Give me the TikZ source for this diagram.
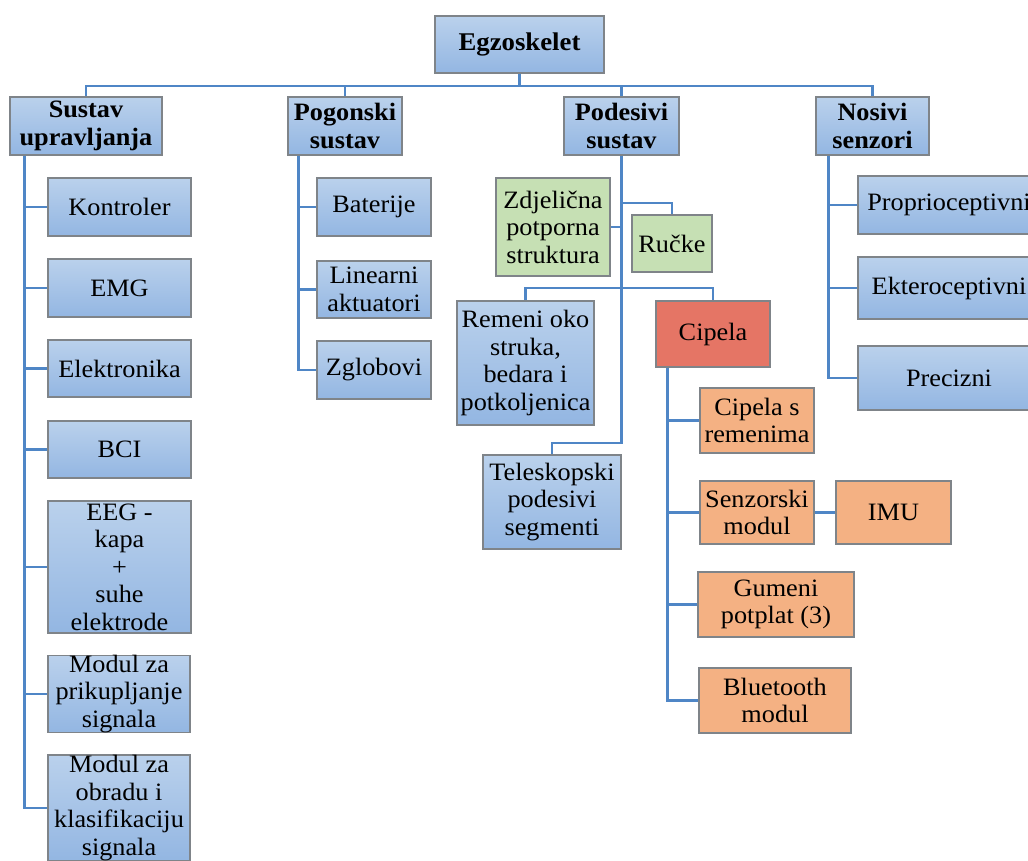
\documentclass[tikz,border=0pt]{standalone}
\usepackage{fontspec}
\setmainfont{Liberation Serif}[FakeStretch=1.05]
\usepackage{tikz}
\usetikzlibrary{calc}
\definecolor{bluetop}{HTML}{BAD1EC}
\definecolor{bluebot}{HTML}{93B6E2}
\definecolor{boxgray}{HTML}{7F8489}
\definecolor{linkblue}{HTML}{4F86C6}
\definecolor{greenfill}{HTML}{C6E0B4}
\definecolor{redfill}{HTML}{E57565}
\definecolor{orangefill}{HTML}{F4B183}
\newcommand{\boxfont}{\rmfamily\fontsize{25}{27.5}\selectfont}

\begin{document}
\begin{tikzpicture}[x=1pt, y=-1pt,
    box/.style={draw=boxgray, line width=1.2pt, inner sep=0pt, align=center, font=\boxfont},
    bluebox/.style={box, top color=bluetop, bottom color=bluebot},
    greenbox/.style={box, fill=greenfill},
    redbox/.style={box, fill=redfill},
    orangebox/.style={box, fill=orangefill},
    head/.style={bluebox, font=\boxfont\bfseries, minimum height=58pt},
    link/.style={draw=linkblue, line width=2.6pt}]
        \clip (0,0) rectangle (1028,860);
        % top level
        \node[head, font=\rmfamily\fontsize{25.5}{28}\selectfont\bfseries, minimum width=169pt, minimum height=57pt] (root) at (519.5,44.5) {Egzoskelet};
        \node[head, minimum width=152pt] (upr) at (86,126) {Sustav\\upravljanja};
        \node[head, minimum width=114pt] (pog) at (345,126) {Pogonski\\sustav};
        \node[head, minimum width=115pt] (pod) at (621.5,126) {Podesivi\\sustav};
        \node[head, minimum width=113pt] (nos) at (872.5,126) {Nosivi\\senzori};
        % sustav upravljanja
        \node[bluebox, minimum width=143pt, minimum height=58pt] (kontroler) at (119.5,207) {Kontroler};
        \node[bluebox, minimum width=143pt, minimum height=58pt] (emg) at (119.5,288) {EMG};
        \node[bluebox, minimum width=143pt, minimum height=57pt] (elektronika) at (119.5,368.5) {Elektronika};
        \node[bluebox, minimum width=143pt, minimum height=57pt] (bci) at (119.5,449.5) {BCI};
        \node[bluebox, minimum width=143pt, minimum height=132pt] (eeg) at (119.5,567) {EEG -\\kapa\\+\\suhe\\elektrode};
        \node[bluebox, minimum width=142pt, minimum height=76pt] (prikup) at (119,694) {Modul za\\prikupljanje\\signala};
        \node[bluebox, minimum width=142pt, minimum height=106pt] (obrada) at (119,808) {Modul za\\obradu i\\klasifikaciju\\signala};
        % pogonski sustav
        \node[bluebox, minimum width=114pt, minimum height=58pt] (baterije) at (374,207) {Baterije};
        \node[bluebox, minimum width=114pt, minimum height=57pt] (linearni) at (374,289.5) {Linearni\\aktuatori};
        \node[bluebox, minimum width=114pt, minimum height=58pt] (zglobovi) at (374,370) {Zglobovi};
        % podesivi sustav
        \node[greenbox, minimum width=114pt, minimum height=98pt] (zdjelicna) at (553,227) {Zdjelična\\potporna\\struktura};
        \node[greenbox, minimum width=80pt, minimum height=57pt] (rucke) at (672,243.5) {Ručke};
        \node[bluebox, minimum width=137pt, minimum height=124pt] (remeni) at (525.5,363) {Remeni oko\\struka,\\bedara i\\potkoljenica};
        \node[redbox, minimum width=114pt, minimum height=66pt] (cipela) at (713,334) {Cipela};
        \node[bluebox, minimum width=138pt, minimum height=94pt] (teleskop) at (552,502) {Teleskopski\\podesivi\\segmenti};
        % cipela
        \node[orangebox, minimum width=114pt, minimum height=65pt] (remenima) at (757,420.5) {Cipela s\\remenima};
        \node[orangebox, minimum width=114pt, minimum height=63pt] (senzorski) at (757,512.5) {Senzorski\\modul};
        \node[orangebox, minimum width=115pt, minimum height=63pt] (imu) at (893.5,512.5) {IMU};
        \node[orangebox, minimum width=156pt, minimum height=65pt] (potplat) at (776,604.5) {Gumeni\\potplat (3)};
        \node[orangebox, minimum width=152pt, minimum height=65pt] (bluetooth) at (775,700.5) {Bluetooth\\modul};
        % nosivi senzori
        \node[bluebox, minimum width=182pt, minimum height=58pt] (proprio) at (949,205) {Proprioceptivni};
        \node[bluebox, minimum width=182pt, minimum height=62pt] (ektero) at (949,288) {Ekteroceptivni};
        \node[bluebox, minimum width=182pt, minimum height=64pt] (precizni) at (949,378) {Precizni};
        % connectors
        \foreach \n in {upr, pog, pod, nos}
          \draw[link] (root.south) -- ++(0,12.5) -| (\n.north);
        \foreach \n in {kontroler, emg, elektronika, bci, eeg, prikup, obrada}
          \draw[link] (upr.south west) ++(15,0) |- (\n.west);
        \foreach \n in {baterije, linearni, zglobovi}
          \draw[link] (pog.south west) ++(11,0) |- (\n.west);
        \foreach \n in {proprio, ektero, precizni}
          \draw[link] (nos.south west) ++(13,0) |- (\n.west);
        \foreach \n in {remenima, senzorski, potplat, bluetooth}
          \draw[link] (cipela.south west) ++(12,0) |- (\n.west);
        \draw[link] (pod.south) |- (zdjelicna.east);
        \draw[link] (pod.south |- 0,203) -| (rucke.north);
        \draw[link] (pod.south |- 0,288) -| (remeni.north);
        \draw[link] (pod.south |- 0,288) -| (cipela.north);
        \draw[link] (pod.south) -- (pod.south |- 0,443) -| (teleskop.north);
        \draw[link] (senzorski.east) -- (imu.west);
      \end{tikzpicture}
\end{document}
